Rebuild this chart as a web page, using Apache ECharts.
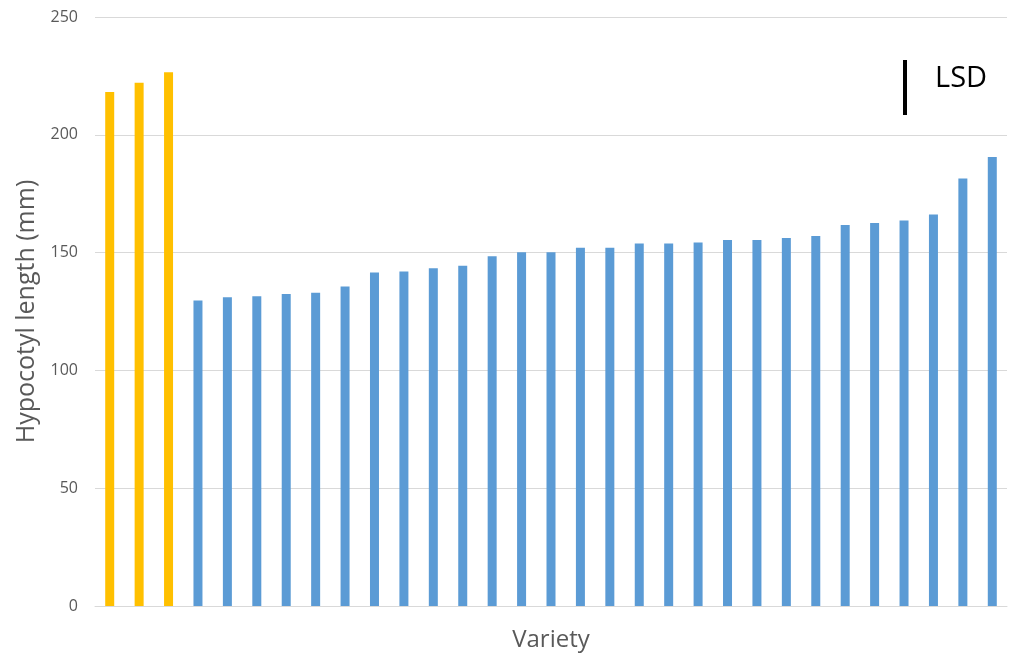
<!DOCTYPE html>
<html>
<head>
<meta charset="utf-8">
<script src="https://cdn.jsdelivr.net/npm/echarts@6/dist/echarts.min.js"></script>
<style>
  html, body { margin: 0; padding: 0; background: #fff; }
  #chart { width: 1019px; height: 659px; }
</style>
</head>
<body>
<div id="chart"></div>
<script>
// check varieties (orange) and tested varieties (blue), hypocotyl length in mm
var checkNames = ['C1', 'C2', 'C3'];
var checkValues = [218.2, 222.1, 226.6];
var varietyNames = [];
for (var i = 1; i <= 28; i++) { varietyNames.push('V' + i); }
var varietyValues = [129.7, 131.0, 131.5, 132.4, 133.0, 135.6, 141.6, 142.0, 143.4, 144.4,
    148.4, 150.2, 150.2, 152.1, 152.1, 153.9, 153.9, 154.3, 155.3, 155.3,
    156.2, 157.0, 161.7, 162.6, 163.6, 166.2, 181.4, 190.6];
var yTicks = [0, 50, 100, 150, 200, 250];

var chart = echarts.init(document.getElementById('chart'), null, {renderer: 'canvas'});
var font = '"Open Sans", "Noto Sans", sans-serif';

var option = {
    animation: false,
    grid: {
        left: 95,
        right: 12,
        top: 17,
        bottom: 53
    },
    xAxis: {
        type: 'category',
        data: checkNames.concat(varietyNames),
        name: 'Variety',
        nameLocation: 'middle',
        nameGap: 22,
        nameTextStyle: {color: '#595959', fontSize: 24, fontFamily: font},
        axisLine: {lineStyle: {color: '#d9d9d9', width: 1}},
        axisTick: {show: false},
        axisLabel: {show: false}
    },
    yAxis: {
        type: 'value',
        min: yTicks[0],
        max: yTicks[yTicks.length - 1],
        interval: 50,
        name: 'Hypocotyl length (mm)',
        nameLocation: 'middle',
        nameGap: 52,
        nameTextStyle: {color: '#595959', fontSize: 25, fontFamily: font},
        axisLine: {show: false},
        axisTick: {show: false},
        axisLabel: {color: '#595959', fontSize: 16, fontFamily: font, margin: 17},
        splitLine: {lineStyle: {color: '#d9d9d9', width: 1}}
    },
    series: [{
        type: 'bar',
        barWidth: 9,
        data: checkValues.concat(varietyValues),
        itemStyle: {
            color: function (p) {
                return p.dataIndex < checkValues.length ? '#FFC000' : '#5B9BD5';
            }
        }
    }],
    graphic: [
        {
            type: 'rect',
            shape: {x: 903, y: 60, width: 4, height: 55},
            style: {fill: '#000'}
        },
        {
            type: 'text',
            x: 935,
            y: 79,
            style: {text: 'LSD', fill: '#000', fontSize: 29, fontFamily: font, verticalAlign: 'middle'}
        }
    ]
};
chart.setOption(option);
</script>
</body>
</html>
